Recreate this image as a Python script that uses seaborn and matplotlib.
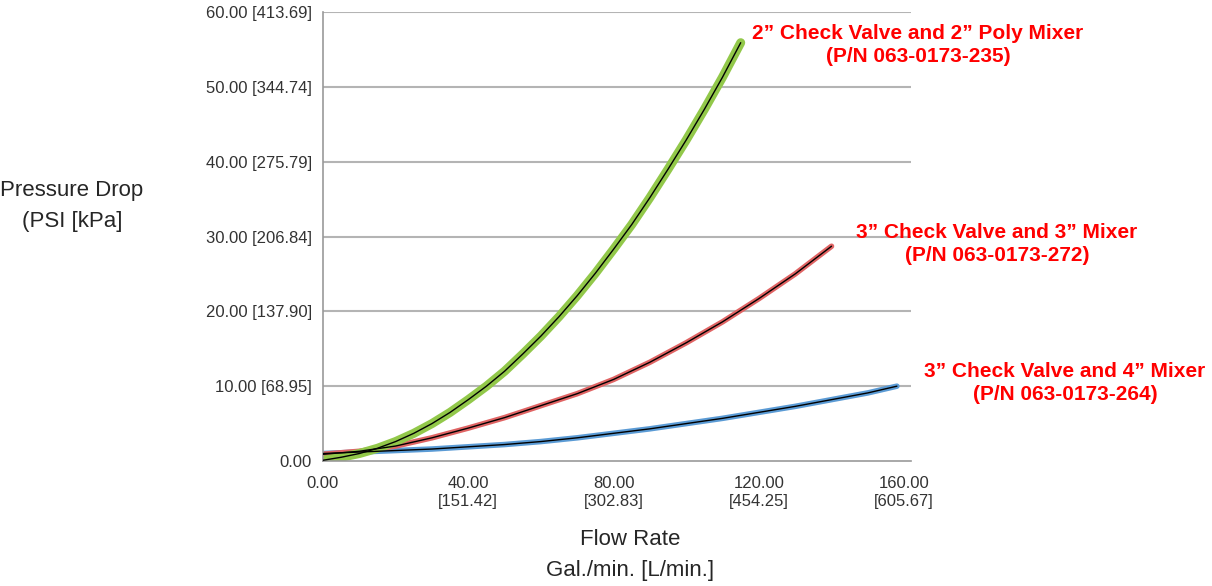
import numpy as np
import pandas as pd
import matplotlib.pyplot as plt
import seaborn as sns
from matplotlib.ticker import MultipleLocator

# Curve data (flow in gal/min, pressure drop in psi)
green_flow = [0, 5, 10, 15, 20, 25, 30, 35, 40, 45, 50, 55, 60, 65, 70, 75,
              80, 85, 90, 95, 100, 105, 110, 115]
green_psi = [0.1, 0.5, 1.0, 1.7, 2.6, 3.7, 5.0, 6.5, 8.2, 10.0, 12.0, 14.3, 16.7,
             19.3, 22.1, 25.1, 28.3, 31.6, 35.2, 39.0, 42.9, 47.0, 51.3, 55.9]

red_flow = [0, 10, 20, 30, 40, 50, 60, 70, 80, 90, 100, 110, 120, 130, 140]
red_psi = [0.9, 1.3, 2.0, 3.1, 4.4, 5.8, 7.4, 9.0, 10.9, 13.2, 15.8, 18.6, 21.7, 25.0, 28.7]

blue_flow = [0, 10, 20, 30, 40, 50, 60, 70, 80, 90, 100, 110, 120, 130, 140, 150, 158]
blue_psi = [1.0, 1.2, 1.4, 1.6, 1.9, 2.2, 2.6, 3.1, 3.7, 4.3, 5.0, 5.7, 6.5, 7.3, 8.2, 9.1, 10.0]

y_ticks = [0, 10, 20, 30, 40, 50, 60]
y_tick_labels = ["0.00", "10.00 [68.95]", "20.00 [137.90]", "30.00 [206.84]",
                 "40.00 [275.79]", "50.00 [344.74]", "60.00 [413.69]"]
x_ticks = [0, 40, 80, 120, 160]
x_tick_labels = ["0.00", "40.00\n[151.42]", "80.00\n[302.83]",
                 "120.00\n[454.25]", "160.00\n[605.67]"]

labels = ["2\u201d Check Valve and 2\u201d Poly Mixer\n(P/N 063-0173-235)",
          "3\u201d Check Valve and 3\u201d Mixer\n(P/N 063-0173-272)",
          "3\u201d Check Valve and 4\u201d Mixer\n(P/N 063-0173-264)"]

sns.set_style("white")
plt.rcParams['font.family'] = ['Liberation Sans', 'DejaVu Sans']

fig = plt.figure(figsize=(12.12, 5.86), dpi=100)
ax = fig.add_axes([0.2665, 0.2133, 0.4855, 0.7662])

green = pd.DataFrame({"flow": green_flow, "psi": green_psi})
red = pd.DataFrame({"flow": red_flow, "psi": red_psi})
blue = pd.DataFrame({"flow": blue_flow, "psi": blue_psi})

for ypos in y_ticks[1:]:
    ax.axhline(ypos, color="#b4b4b4", lw=1.5, zorder=0)

# coloured halo with thin black trend line on top
for df, col, w in [(blue, "#5b9bd5", 4), (red, "#e06464", 4), (green, "#92c84a", 6.5)]:
    sns.lineplot(data=df, x="flow", y="psi", ax=ax, color=col, lw=w, zorder=2,
                 solid_capstyle="round")
    sns.lineplot(data=df, x="flow", y="psi", ax=ax, color="black", lw=1.0, zorder=3)

ax.set_xlim(0, 162)
ax.set_ylim(0, 60)
ax.set_xticks(x_ticks)
ax.set_xticklabels(x_tick_labels, linespacing=1.2)
ax.set_yticks(y_ticks)
ax.set_yticklabels(y_tick_labels)
ax.xaxis.set_minor_locator(MultipleLocator(10))
ax.yaxis.set_minor_locator(MultipleLocator(2))
ax.tick_params(axis="both", which="major", length=5, width=1, color="#999999",
               labelsize=12, labelcolor="#333333")
ax.tick_params(axis="x", which="major", pad=6)
ax.tick_params(axis="y", which="major", pad=3)
ax.tick_params(axis="both", which="minor", length=4, width=1, color="#999999")
ax.set_xlabel("")
ax.set_ylabel("")

for s in ["top", "right"]:
    ax.spines[s].set_visible(False)
for s in ["left", "bottom"]:
    ax.spines[s].set_color("#999999")
    ax.spines[s].set_linewidth(1.2)

fig.text(72 / 1212, 1 - 206 / 586, "Pressure Drop\n(PSI [kPa]", ha="center", va="center",
         fontsize=16, linespacing=1.6)
fig.text(630 / 1212, 1 - 555 / 586, "Flow Rate\nGal./min. [L/min.]", ha="center", va="center",
         fontsize=16, linespacing=1.6)

label_pos = [(918, 45), (997, 244), (1065, 383)]
for txt, (px, py) in zip(labels, label_pos):
    fig.text(px / 1212, 1 - py / 586, txt, ha="center", va="center", color="#ff0000",
             fontsize=15, fontweight="bold", linespacing=1.3)

fig.savefig("out.png", dpi=100)
